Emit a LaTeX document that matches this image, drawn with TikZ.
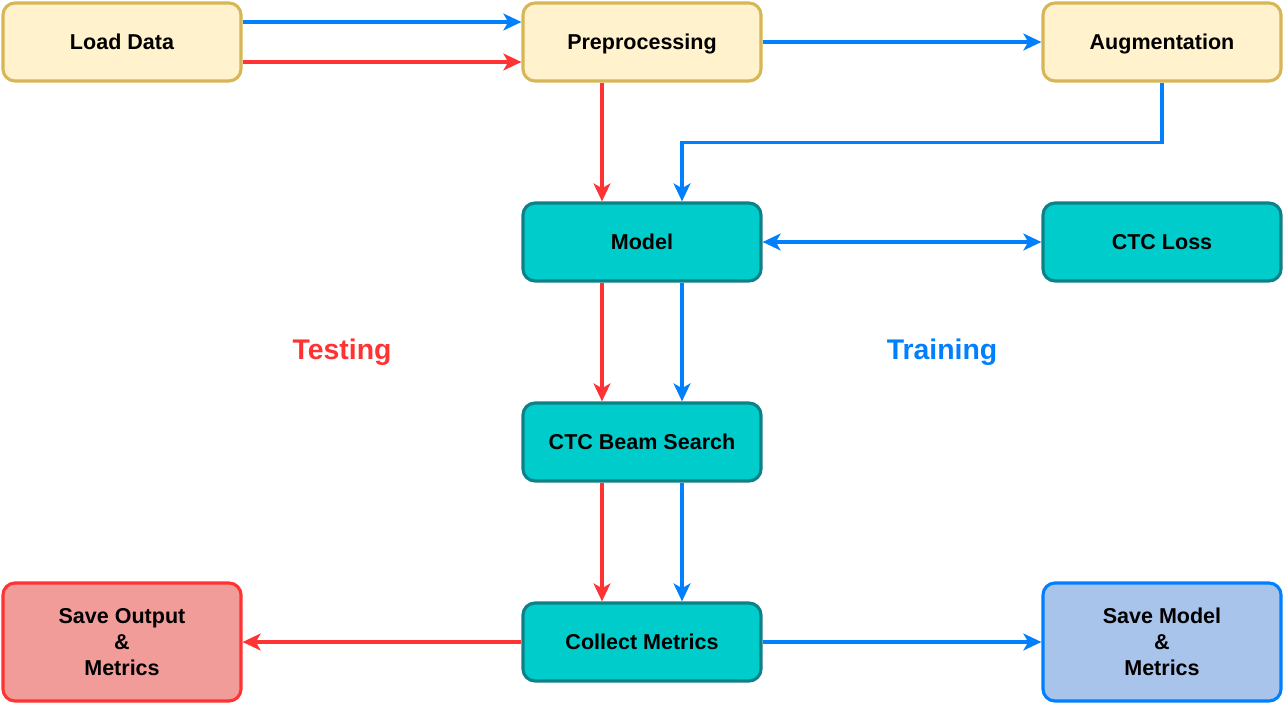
\documentclass[tikz,border=0pt]{standalone}
\usepackage{fontspec}
\setmainfont{Liberation Sans}
\usetikzlibrary{arrows.meta, positioning}

\definecolor{dataFill}{HTML}{FFF2CC}
\definecolor{dataLine}{HTML}{D6B656}
\definecolor{netFill}{HTML}{00CCCC}
\definecolor{netLine}{HTML}{0E8088}
\definecolor{testFill}{HTML}{F19C99}
\definecolor{testLine}{HTML}{FF3333}
\definecolor{trainFill}{HTML}{A9C4EB}
\definecolor{trainLine}{HTML}{007FFF}

\tikzset{
  tip/.tip = {Stealth[length=0.45cm, width=0.42cm, inset=0.12cm]},
  block/.style = {rounded corners=0.3cm, line width=2.2pt, minimum width=5.95cm,
    minimum height=1.95cm, align=center, inner sep=0pt,
    font=\fontsize{15.3}{18.5}\selectfont\bfseries},
  oneline/.style = {text height=11pt, text depth=0pt},
  datablock/.style = {block, oneline, draw=dataLine, fill=dataFill},
  netblock/.style = {block, oneline, draw=netLine, fill=netFill},
  saveout/.style = {block, draw=testLine, fill=testFill, minimum height=2.95cm},
  savemodel/.style = {block, draw=trainLine, fill=trainFill, minimum height=2.95cm},
  flow/.style = {line width=2.2pt, -tip},
  testflow/.style = {flow, draw=testLine},
  trainflow/.style = {flow, draw=trainLine},
  phase/.style = {font=\fontsize{20.2}{24}\selectfont\bfseries}
}

\begin{document}
\begin{tikzpicture}[x=0.025cm, y=-0.025cm]
    \useasboundingbox (0,0) rectangle (1284,704);

    \node (load) [datablock] at (122,42) {Load Data};
    \node (prep) [datablock] at (642,42) {Preprocessing};
    \node (aug) [datablock] at (1162,42) {Augmentation};
    \node (model) [netblock] at (642,242) {Model};
    \node (loss) [netblock] at (1162,242) {CTC Loss};
    \node (beam) [netblock] at (642,442) {CTC Beam Search};
    \node (metrics) [netblock] at (642,642) {Collect Metrics};
    \node (saveout) [saveout] at (122,642) {Save Output\\\&\\Metrics};
    \node (savemodel) [savemodel] at (1162,642) {Save Model\\\&\\Metrics};

    \node (testing) [phase, text=testLine] at (342,352) {Testing};
    \node (training) [phase, text=trainLine] at (942,352) {Training};

    % training path
    \draw [trainflow] ([yshift=0.5cm]load.east) -- ([yshift=0.5cm]prep.west);
    \draw [trainflow] (prep) -- (aug);
    \draw [trainflow] (aug.south) -- ++(0,60) -| ([xshift=1cm]model.north);
    \draw [trainflow, tip-tip] (model) -- (loss);
    \draw [trainflow] ([xshift=1cm]model.south) -- ([xshift=1cm]beam.north);
    \draw [trainflow] ([xshift=1cm]beam.south) -- ([xshift=1cm]metrics.north);
    \draw [trainflow] (metrics) -- (savemodel);

    % testing path
    \draw [testflow] ([yshift=-0.5cm]load.east) -- ([yshift=-0.5cm]prep.west);
    \draw [testflow] ([xshift=-1cm]prep.south) -- ([xshift=-1cm]model.north);
    \draw [testflow] ([xshift=-1cm]model.south) -- ([xshift=-1cm]beam.north);
    \draw [testflow] ([xshift=-1cm]beam.south) -- ([xshift=-1cm]metrics.north);
    \draw [testflow] (metrics) -- (saveout);
\end{tikzpicture}
\end{document}
